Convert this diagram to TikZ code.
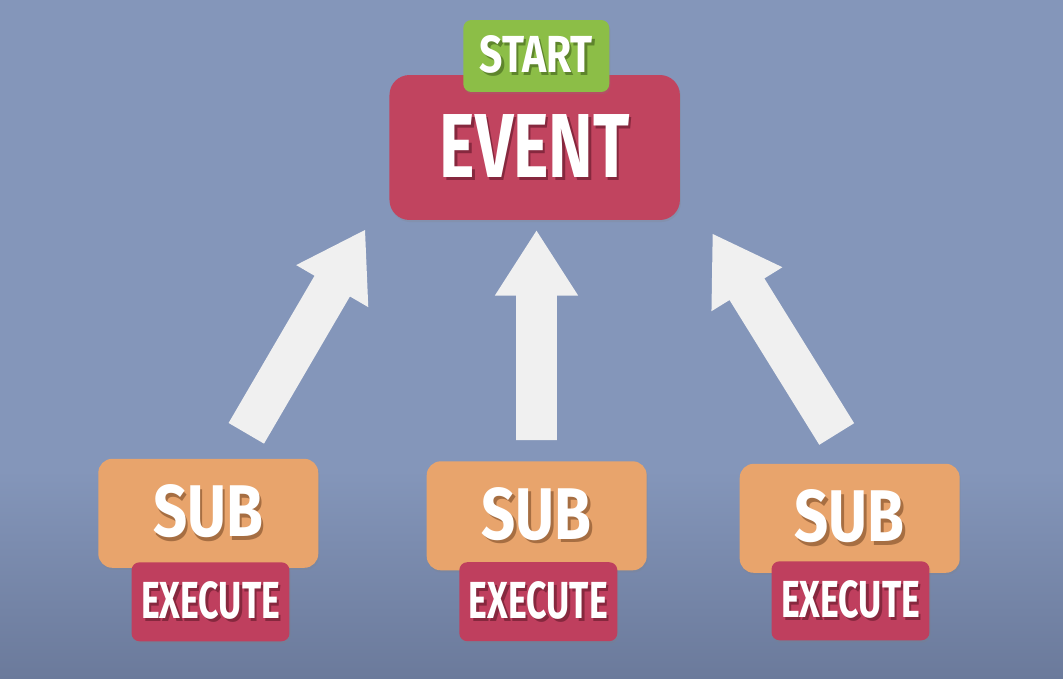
\documentclass[tikz,border=0pt]{standalone}
\usepackage{fontspec}
\setmainfont{Fira Sans}
\usetikzlibrary{calc,shadows}
\definecolor{bgc}{HTML}{8496BA}
\definecolor{bgdark}{HTML}{6B7A9B}
\definecolor{eventc}{HTML}{C1445F}
\definecolor{startc}{HTML}{8CBE47}
\definecolor{subc}{HTML}{E8A46C}
\definecolor{exc}{HTML}{BF3F5E}
\definecolor{arrowc}{HTML}{F0F0F0}
\definecolor{redshadow}{HTML}{86283E}
\definecolor{orshadow}{HTML}{A66E42}
\definecolor{grshadow}{HTML}{5E852C}
\newcommand\stxt[4]{\makebox[0pt][l]{\hspace{0.05cm}\raisebox{-0.07cm}{\textcolor{#3}{\resizebox{#1}{#2}{\bfseries #4}}}}\textcolor{white}{\resizebox{#1}{#2}{\bfseries #4}}}
\newcommand\blockarrow[2]{%
  \coordinate (#1h) at ($(#2)!1.3cm!(#1)$);
  \fill[arrowc] ($(#1)!0.41cm!90:(#2)$) -- ($(#1h)!0.41cm!-90:(#1)$) -- ($(#1h)!0.835cm!-90:(#1)$) -- (#2)
    -- ($(#1h)!0.835cm!90:(#1)$) -- ($(#1h)!0.41cm!90:(#1)$) -- ($(#1)!0.41cm!-90:(#2)$) -- cycle;}
\tikzset{
  box/.style={rectangle, inner sep=0pt, drop shadow={shadow xshift=0.6pt, shadow yshift=-1.2pt, opacity=0.2}},
  eventbox/.style={box, fill=eventc, rounded corners=0.4cm, minimum width=5.81cm, minimum height=2.9cm},
  startbox/.style={box, fill=startc, rounded corners=0.16cm, minimum width=2.92cm, minimum height=1.44cm},
  subbox/.style={box, fill=subc, rounded corners=0.28cm, minimum width=4.4cm, minimum height=2.18cm},
  exebox/.style={box, fill=exc, rounded corners=0.16cm, minimum width=3.16cm, minimum height=1.58cm}
}
\begin{document}
\begin{tikzpicture}[x=0.02cm, y=-0.02cm]
\useasboundingbox (0,0) rectangle (1063,679);
\fill[bgc] (0,0) rectangle (1063,679);
\fill[top color=bgc, bottom color=bgdark] (0,470) rectangle (1063,679);
% event
\node[eventbox] (event) at (534.7,147.5) {\stxt{3.8cm}{1.26cm}{redshadow}{EVENT}};
\node[startbox] (start) at (536.3,56) {\stxt{2.26cm}{0.74cm}{grshadow}{START}};
% subs
\node[subbox] (sub1) at (208.3,513.3) {\stxt{2.2cm}{1.04cm}{orshadow}{SUB}};
\node[exebox] (exe1) at (210.5,601.8) {\stxt{2.78cm}{0.74cm}{redshadow}{EXECUTE}};
\node[subbox] (sub2) at (536.7,515.8) {\stxt{2.2cm}{1.04cm}{orshadow}{SUB}};
\node[exebox] (exe2) at (538.3,601.7) {\stxt{2.78cm}{0.74cm}{redshadow}{EXECUTE}};
\node[subbox] (sub3) at (849.7,518.3) {\stxt{2.2cm}{1.04cm}{orshadow}{SUB}};
\node[exebox] (exe3) at (850.5,600.8) {\stxt{2.78cm}{0.74cm}{redshadow}{EXECUTE}};
% arrows
\coordinate (lt) at (246.3,433.3);
\coordinate (lp) at (365,230);
\coordinate (mt) at (536.5,440);
\coordinate (mp) at (536.5,230.7);
\coordinate (rt) at (836.7,434);
\coordinate (rp) at (712.7,234);
\blockarrow{lt}{lp}
\blockarrow{mt}{mp}
\blockarrow{rt}{rp}
\end{tikzpicture}
\end{document}
